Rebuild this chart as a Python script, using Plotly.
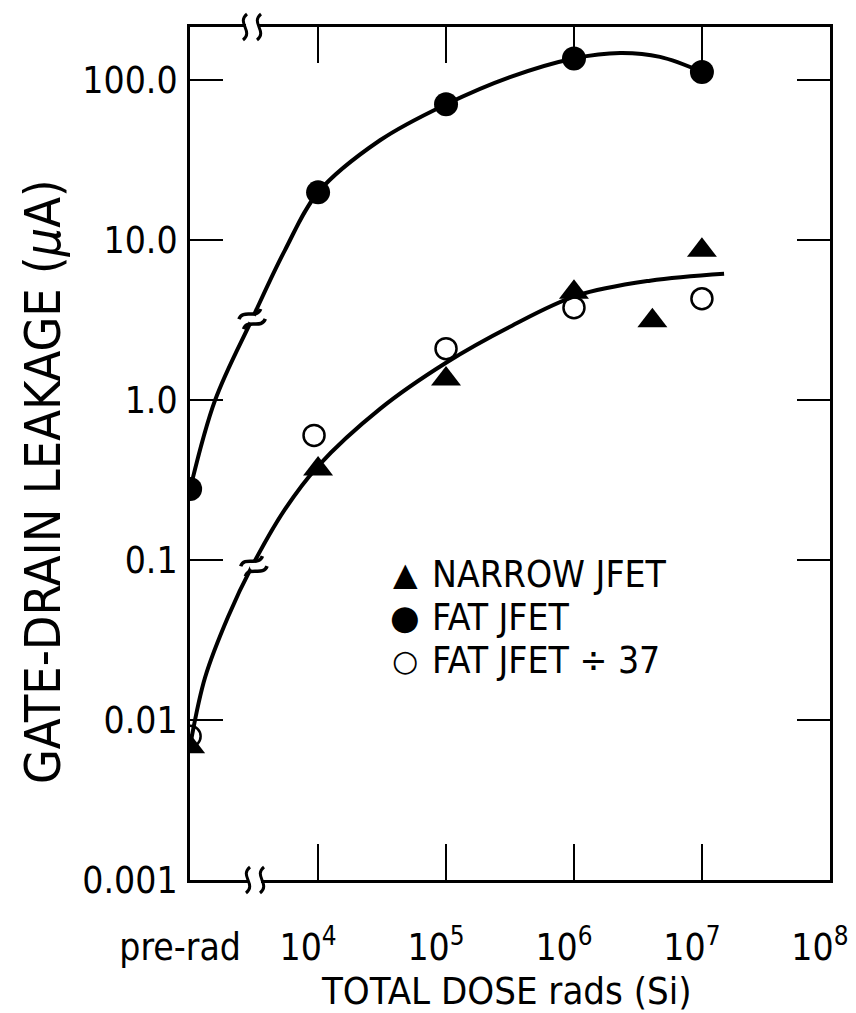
import math
import plotly.graph_objects as go

# ---- data ----
narrow_dose = [1e3, 1e4, 1e5, 1e6, 4.1e6, 1e7]
narrow_leak = [0.0068, 0.37, 1.35, 4.7, 3.12, 8.6]

fat_dose = [1e3, 1e4, 1e5, 1e6, 1e7]
fat_leak = [0.277, 19.8, 70.3, 136, 112]

fat37_dose = [1e3, 9.3e3, 1e5, 1e6, 1e7]
fat37_leak = [0.0079, 0.60, 2.09, 3.77, 4.29]

# hand-drawn fitted curves
upper_dose = [1e3, 1.57e3, 3.05e3, 5.5e3, 1e4, 3.05e4, 1e5, 3.16e5, 1e6, 2.3e6, 4.7e6, 1e7]
upper_leak = [0.277, 1.0, 3.2, 8.6, 19.8, 41.9, 70.3, 104, 136, 147, 139, 112]

lower_dose = [1.02e3, 1.31e3, 1.98e3, 3.05e3, 5.52e3, 1e4, 3.05e4, 1e5, 3.16e5, 1.05e6, 3.93e6, 1.49e7]
lower_leak = [0.00753, 0.0185, 0.0442, 0.0914, 0.2075, 0.386, 0.879, 1.706, 2.864, 4.48, 5.56, 6.15]

# positions of the "broken scale" marks on the curves
break_dose = [3.05e3, 3.15e3]
break_leak = [3.2, 0.0914]

x_tickvals = [1e3, 1e4, 1e5, 1e6, 1e7, 1e8]
x_ticktext = ["pre-rad", "10<sup>4</sup>", "10<sup>5</sup>", "10<sup>6</sup>", "10<sup>7</sup>", "10<sup>8</sup>"]
y_tickvals = [0.001, 0.01, 0.1, 1, 10, 100]
y_ticktext = ["0.001", "0.01", "0.1", "1.0", "10.0", "100.0"]

legend_labels = ["NARROW JFET", "FAT JFET", "FAT JFET ÷ 37"]
legend_symbols = ["▲", "●", "○"]

FONT = "Liberation Sans Narrow, DejaVu Sans Condensed, Arial Narrow, sans-serif"

W, H = 856, 1013
ML, MR, MT, MB = 190, 26, 27, 133
XR = [2.999, 8.001]
YR = [-3.0, 2.33]
PW, PH = W - ML - MR, H - MT - MB


def to_paper(px, py):
    # pixel offsets inside the plot area -> paper fractions
    return (px - ML) / PW, (H - MB - py) / PH


def data_px(x, y):
    fx = (math.log10(x) - XR[0]) / (XR[1] - XR[0])
    fy = (math.log10(y) - YR[0]) / (YR[1] - YR[0])
    return ML + fx * PW, H - MB - fy * PH


def path_from(points_px):
    pts = [to_paper(*p) for p in points_px]
    s = "M %.5f,%.5f C " % pts[0]
    s += " ".join("%.5f,%.5f" % p for p in pts[1:])
    return s


fig = go.Figure()

fig.add_trace(go.Scatter(x=upper_dose, y=upper_leak, mode="lines",
                         line=dict(color="black", width=4, shape="spline", smoothing=1.0),
                         showlegend=False, hoverinfo="skip"))
fig.add_trace(go.Scatter(x=lower_dose, y=lower_leak, mode="lines",
                         line=dict(color="black", width=4, shape="spline", smoothing=1.0),
                         showlegend=False, hoverinfo="skip"))

fig.add_trace(go.Scatter(x=narrow_dose, y=narrow_leak, mode="markers", name=legend_labels[0],
                         showlegend=False,
                         marker=dict(symbol="triangle-up", size=26, color="black")))
fig.add_trace(go.Scatter(x=fat_dose, y=fat_leak, mode="markers", name=legend_labels[1],
                         showlegend=False,
                         marker=dict(symbol="circle", size=24, color="black")))
fig.add_trace(go.Scatter(x=fat37_dose, y=fat37_leak, mode="markers", name=legend_labels[2],
                         showlegend=False,
                         marker=dict(symbol="circle-open", size=21, color="black",
                                     line=dict(width=2.5, color="black"))))

shapes = []
# "≈" break marks across the curves
a = math.radians(25)
ux, uy = math.cos(a), -math.sin(a)
nx, ny = math.sin(a), math.cos(a)
for bx, by in zip(break_dose, break_leak):
    cx, cy = data_px(bx, by)
    gx0, gy0 = to_paper(cx - 4, cy + 4)
    gx1, gy1 = to_paper(cx + 4, cy - 4)
    shapes.append(dict(type="circle", xref="paper", yref="paper",
                       x0=gx0, x1=gx1, y0=gy0, y1=gy1,
                       fillcolor="white", line=dict(width=0), layer="above"))
    for o in (-5.5, 5.5):
        ox, oy = cx + o * nx, cy + o * ny
        pts = [(ox - 12 * ux, oy - 12 * uy),
               (ox - 4 * ux - 8 * nx, oy - 4 * uy - 8 * ny),
               (ox + 4 * ux + 8 * nx, oy + 4 * uy + 8 * ny),
               (ox + 12 * ux, oy + 12 * uy)]
        shapes.append(dict(type="path", xref="paper", yref="paper", path=path_from(pts),
                           line=dict(color="black", width=3.5), layer="above"))

# broken-axis squiggles on the top and bottom frame lines
for ax_y, x0 in [(MT, 245), (H - MB, 248)]:
    shapes.append(dict(type="rect", xref="paper", yref="paper",
                       x0=to_paper(x0 + 1, 0)[0], x1=to_paper(x0 + 13, 0)[0],
                       y0=to_paper(0, ax_y - 3)[1], y1=to_paper(0, ax_y + 3)[1],
                       fillcolor="white", line=dict(width=0), layer="above"))
    for sx in (x0, x0 + 14):
        pts = [(sx + 2, ax_y - 13), (sx - 9, ax_y - 4), (sx + 9, ax_y + 4), (sx - 2, ax_y + 13)]
        shapes.append(dict(type="path", xref="paper", yref="paper", path=path_from(pts),
                           line=dict(color="black", width=3), layer="above"))

# legend drawn as text
legend_y_px = [574, 617, 660]
legend_sym_size = [32, 34, 30]
for lab, sym, ly, ss in zip(legend_labels, legend_symbols, legend_y_px, legend_sym_size):
    px_, py_ = to_paper(405, ly)
    fig.add_annotation(x=px_, y=py_, xref="paper", yref="paper", text=sym, showarrow=False,
                       xanchor="center", yanchor="middle",
                       font=dict(size=ss, color="black", family="DejaVu Sans"))
    tx, ty = to_paper(430, ly)
    fig.add_annotation(x=tx, y=ty, xref="paper", yref="paper", text=lab, showarrow=False,
                       xanchor="left", yanchor="middle",
                       font=dict(size=37, color="black", family=FONT))

# axis titles placed as text
xt_x, xt_y = to_paper(506, 991)
fig.add_annotation(x=xt_x, y=xt_y, xref="paper", yref="paper", text="TOTAL DOSE rads (Si)",
                   showarrow=False, xanchor="center", yanchor="middle",
                   font=dict(size=38, color="black", family=FONT))
yt_x, yt_y = to_paper(43, 482)
fig.add_annotation(x=yt_x, y=yt_y, xref="paper", yref="paper",
                   text="GATE-DRAIN LEAKAGE (<i>μ</i>A)", textangle=-90,
                   showarrow=False, xanchor="center", yanchor="middle",
                   font=dict(size=50, color="black", family=FONT))

fig.update_xaxes(type="log", range=XR, tickvals=x_tickvals, ticktext=x_ticktext,
                 ticks="inside", ticklen=36, tickwidth=1.5, tickcolor="black",
                 showline=True, linewidth=3, linecolor="black", mirror="ticks",
                 showgrid=False, zeroline=False, ticklabelstandoff=33,
                 ticklabelshift=-10,
                 ticklabeloverflow="allow", automargin=False,
                 tickfont=dict(size=37, family=FONT, color="black"))
fig.update_yaxes(type="log", range=YR, tickvals=y_tickvals, ticktext=y_ticktext,
                 ticks="inside", ticklen=33, tickwidth=1.5, tickcolor="black",
                 showline=True, linewidth=3, linecolor="black", mirror="ticks",
                 showgrid=False, zeroline=False, ticklabelstandoff=2, automargin=False,
                 tickfont=dict(size=37, family=FONT, color="black"))

fig.update_layout(
    width=W, height=H,
    margin=dict(l=ML, r=MR, t=MT, b=MB, autoexpand=False),
    paper_bgcolor="white", plot_bgcolor="white",
    font=dict(family=FONT, color="black"),
    showlegend=False,
    shapes=shapes,
)

fig.write_html("out.html")
